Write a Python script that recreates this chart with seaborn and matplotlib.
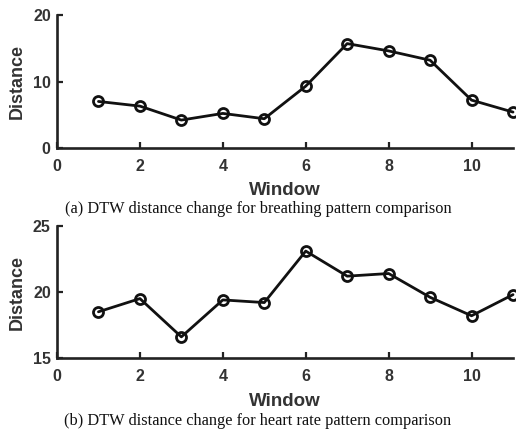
import numpy as np
import pandas as pd
import matplotlib
matplotlib.use("Agg")
import matplotlib.pyplot as plt
import seaborn as sns

windows = [1, 2, 3, 4, 5, 6, 7, 8, 9, 10, 11]
breathing = [7.0, 6.3, 4.2, 5.2, 4.4, 9.3, 15.7, 14.6, 13.2, 7.2, 5.4]
heart = [18.5, 19.5, 16.6, 19.4, 19.2, 23.1, 21.2, 21.4, 19.6, 18.2, 19.8]
captions = ["(a) DTW distance change for breathing pattern comparison",
            "(b) DTW distance change for heart rate pattern comparison"]

sns.set_style("ticks")
plt.rcParams['font.family'] = ['Liberation Sans', 'DejaVu Sans']

fig = plt.figure(figsize=(5.16, 4.32), dpi=100)
W, H = 516, 432
boxes = [(57, 15, 513, 148), (57, 226, 513, 358)]
ylims = [(0, 20), (15, 25)]
yticks = [[0, 10, 20], [15, 20, 25]]
series = [breathing, heart]
label_y = [190, 401]
cap_y = [209, 421]

for i in range(2):
    l, t, r, b = boxes[i]
    ax = fig.add_axes([l / W, 1 - b / H, (r - l) / W, (b - t) / H])
    df = pd.DataFrame({"Window": windows, "Distance": series[i]})
    sns.lineplot(data=df, x="Window", y="Distance", ax=ax, color="#111111",
                 linewidth=2.0, marker="o", markersize=7.2, markerfacecolor="none",
                 markeredgecolor="#111111", markeredgewidth=2.0, clip_on=False)
    ax.set_xlim(0, 11)
    ax.set_ylim(*ylims[i])
    ax.set_xticks([0, 2, 4, 6, 8, 10])
    ax.set_yticks(yticks[i])
    sns.despine(ax=ax)
    for s in ["left", "bottom"]:
        ax.spines[s].set_linewidth(1.9)
        ax.spines[s].set_color("#222222")
    ax.tick_params(direction="in", length=4, width=1.6, colors="#222222")
    ax.tick_params(axis="x", pad=8, labelsize=11.5)
    ax.tick_params(axis="y", pad=4.5, labelsize=11.5)
    for lab in ax.get_xticklabels() + ax.get_yticklabels():
        lab.set_fontweight("bold")
        lab.set_color("#333333")
    ax.set_xlabel("")
    ax.set_ylabel("Distance", fontsize=13, fontweight="bold", color="#333333", labelpad=5)
    fig.text(285 / W, 1 - label_y[i] / H, "Window", ha="center", va="center",
             fontsize=13.5, fontweight="bold", color="#333333")
    fig.text(258 / W, 1 - cap_y[i] / H, captions[i], ha="center", va="center",
             fontsize=11.8, family="Liberation Serif", color="#111111")

fig.savefig("out.png", dpi=100)
